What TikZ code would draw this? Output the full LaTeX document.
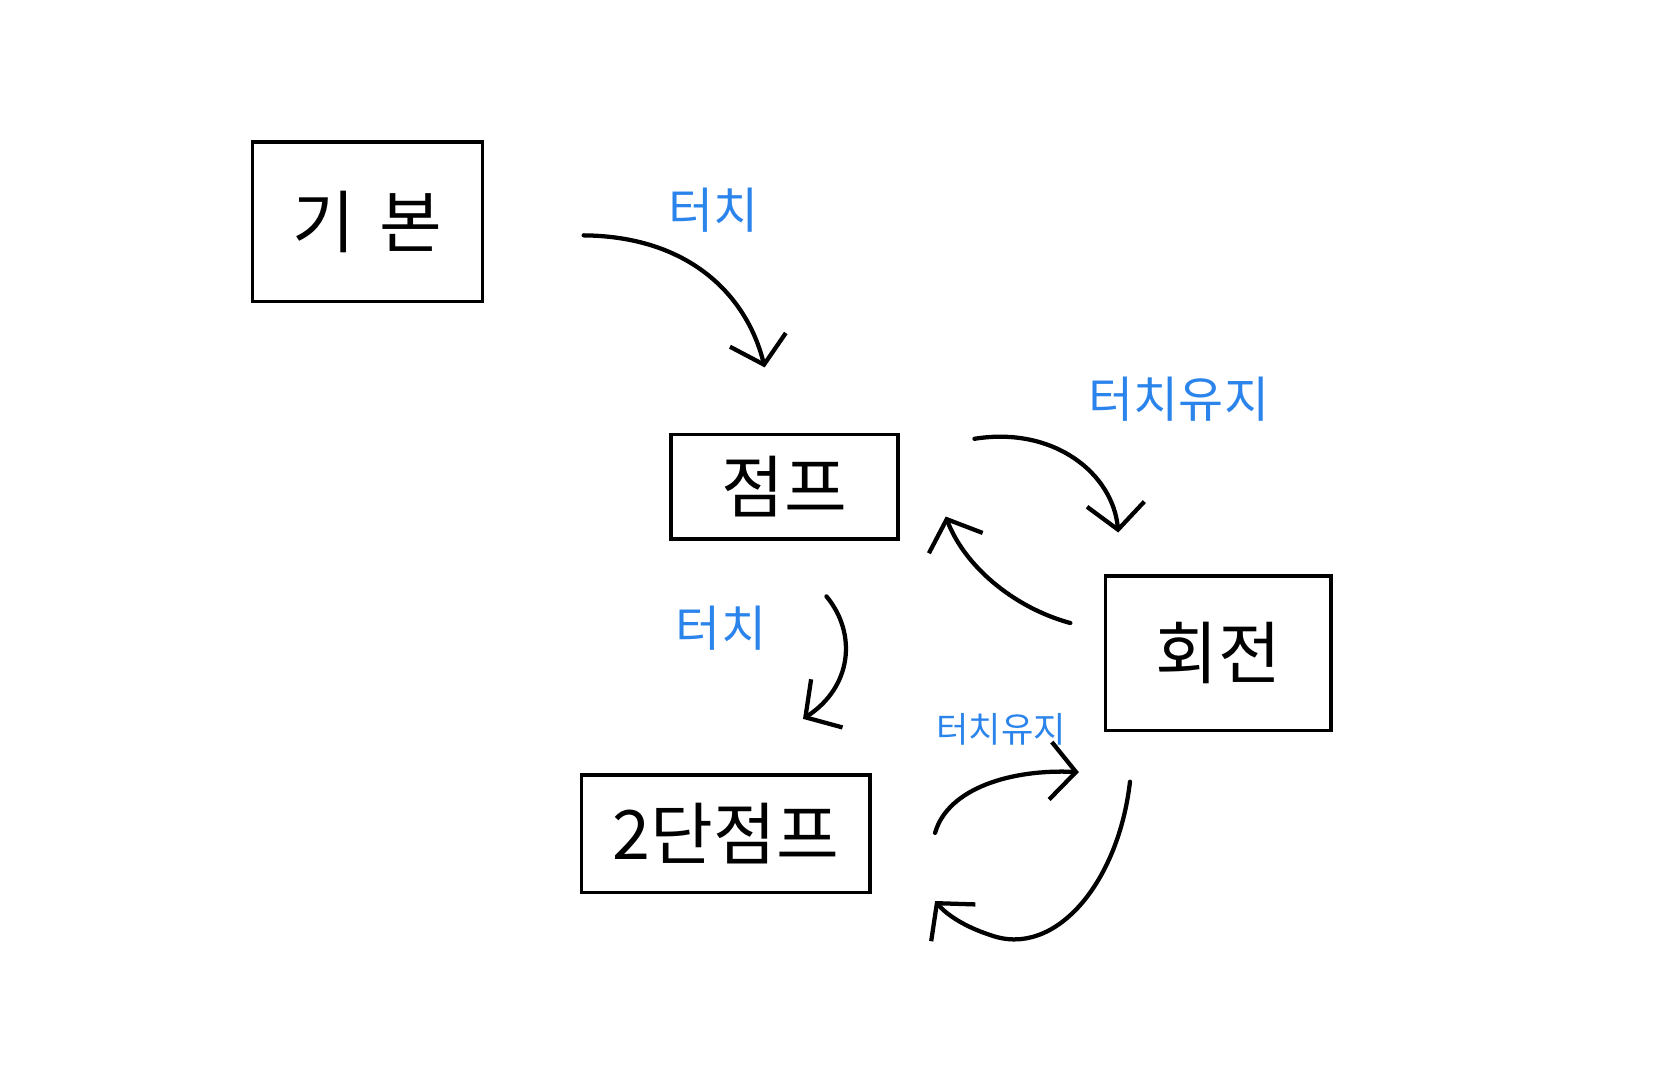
\documentclass[tikz,border=0pt]{standalone}
\usepackage{fontspec}
\setmainfont{Noto Sans CJK KR}
\usetikzlibrary{arrows.meta}
\definecolor{touchblue}{RGB}{42,132,235}

\begin{document}
\begin{tikzpicture}[x=1pt,y=-1pt,
  state/.style={draw,line width=3.5pt,inner sep=0pt,font=\fontsize{64}{64}\selectfont},
  touch/.style={text=touchblue,inner sep=0pt,font=\fontsize{46}{46}\selectfont},
  move/.style={line width=4pt,line cap=round,line join=round,
    -{Straight Barb[length=24pt,width=54pt,line width=4pt]}}]
\useasboundingbox (0,0) rectangle (1569,1016);
  % states
  \node[state,minimum width=216pt,minimum height=150pt] (basic) at (345,208) {기\hspace{0.35em}본};
  \node[state,minimum width=213pt,minimum height=98pt] (jump) at (736.5,457) {점프};
  \node[state,minimum width=271pt,minimum height=110pt] (djump) at (681.5,783) {2단점프};
  \node[state,minimum width=212pt,minimum height=145pt] (spin) at (1144,613.5) {회전};
  % labels
  \node[touch] (l1) at (670,197) {터치};
  \node[touch] (l2) at (1107,375) {터치유지};
  \node[touch] (l3) at (677,590) {터치};
  \node[touch,font=\fontsize{33}{33}\selectfont] (l4) at (940,685) {터치유지};
  % free ends
  \coordinate (a1) at (548,221);  \coordinate (b1) at (718,345);
  \coordinate (a2) at (915,412);  \coordinate (b2) at (1050,500);
  \coordinate (a3) at (1005,585); \coordinate (b3) at (888,485);
  \coordinate (a4) at (776,560);  \coordinate (b4) at (754,675);
  \coordinate (a5) at (878,782);  \coordinate (b5) at (1013,725);
  \coordinate (a6) at (1061,734); \coordinate (b6) at (878,846);
  % moves
  \draw[move] (a1) .. controls (650,222) and (702,280) .. (b1);
  \draw[move] (a2) .. controls (990,400) and (1045,445) .. (b2);
  \draw[move] (a3) .. controls (950,570) and (905,530) .. (b3);
  \draw[move] (a4) .. controls (805,595) and (800,645) .. (b4);
  \draw[move] (a5) .. controls (890,740) and (950,722) .. (b5);
  \draw[move] (a6) .. controls (1050,830) and (990,900) .. (930,878) .. controls (905,870) and (888,858) .. (b6);
\end{tikzpicture}
\end{document}
